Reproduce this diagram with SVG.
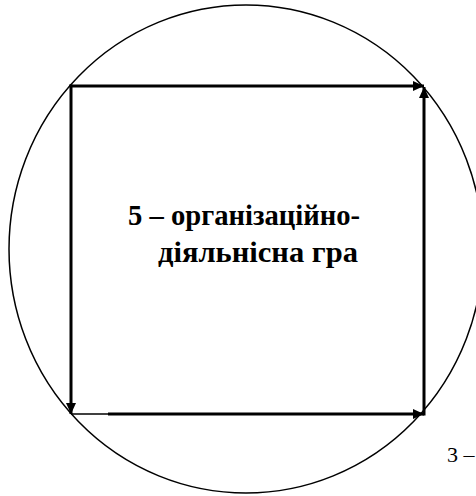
<svg xmlns="http://www.w3.org/2000/svg" width="476" height="496" viewBox="0 0 476 496">
<style>
.arr{stroke:#000;stroke-width:3;fill:none}
.thin{stroke:#000;stroke-width:1.5;fill:none}
.lbl{font-family:'Liberation Serif','DejaVu Serif',serif;font-weight:bold;fill:#000}
.num{font-family:'Liberation Serif','DejaVu Serif',serif;fill:#000}
</style>
<defs>
<marker id="ah" markerUnits="userSpaceOnUse" markerWidth="12" markerHeight="12" viewBox="0 0 12 12" refX="11" refY="6" orient="auto">
<path d="M0,1 L11,6 L0,11 Z" fill="#000"/>
</marker>
</defs>
<rect width="476" height="496" fill="#fff"/>
<g id="circle">
<ellipse cx="246" cy="249" rx="237" ry="244" fill="none" stroke="#000" stroke-width="1.5"/>
</g>
<g id="connectors">
<line class="arr" x1="69.5" y1="86" x2="424" y2="86" marker-end="url(#ah)"/>
<line class="arr" x1="71" y1="84.5" x2="71" y2="414" marker-end="url(#ah)"/>
<line class="thin" x1="71" y1="414" x2="108" y2="414"/>
<line class="arr" x1="108" y1="414" x2="424" y2="414" marker-end="url(#ah)"/>
<line class="arr" x1="424" y1="415.5" x2="424" y2="87" marker-end="url(#ah)"/>
</g>
<g id="label">
<text class="lbl" x="128" y="225" font-size="29" textLength="232" lengthAdjust="spacingAndGlyphs">5 – організаційно-</text>
<text class="lbl" x="158" y="262" font-size="29" textLength="200" lengthAdjust="spacingAndGlyphs">діяльнісна гра</text>
</g>
<g id="label3">
<text class="num" x="447" y="462" font-size="22">3 –</text>
</g>
</svg>
